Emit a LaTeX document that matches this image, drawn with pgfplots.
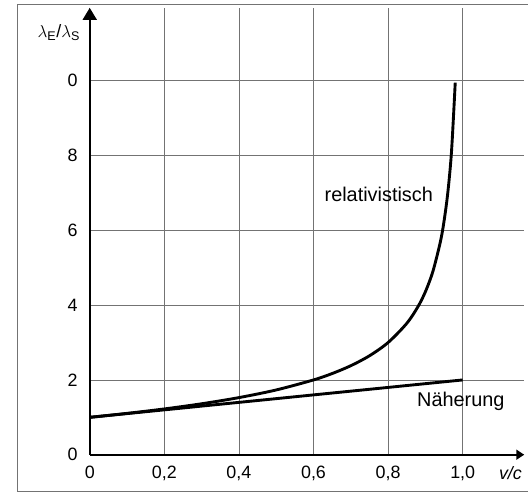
\documentclass[border=0pt]{standalone}
\usepackage{fontspec}
\setmainfont{Liberation Sans}
\usepackage{pgfplots}
\pgfplotsset{compat=1.18}
\usetikzlibrary{arrows.meta}
\definecolor{gridgray}{RGB}{115,115,115}
\begin{document}
\begin{tikzpicture}
\begin{axis}[
  x=374bp, y=37.5bp,
  xmin=0, xmax=1.165, ymin=0, ymax=11.95,
  axis lines=left,
  axis line style={line width=1.8pt, black},
  x axis line style={-{Triangle[width=10bp,length=8bp]}},
  y axis line style={-{Triangle[width=14bp,length=12bp]}},
  xtick={0,0.2,0.4,0.6,0.8,1.0},
  xticklabels={0,{0,2},{0,4},{0,6},{0,8},{1,0}},
  ytick={0,2,4,6,8,10},
  yticklabels={0,2,4,6,8,0},
  major tick length=0pt,
  grid=major,
  major grid style={gridgray, line width=0.8pt},
  /pgf/number format/assume math mode=true,
  ticklabel style={font=\fontsize{18}{20}\selectfont, inner sep=0pt},
  yticklabel style={anchor=east, xshift=-12bp},
  xticklabel style={anchor=north, yshift=-11bp},
  clip=false,
]
% invisible bounding rectangle matching the scan
\path (axis cs:-0.2406,-1.013) rectangle (axis cs:1.1738,12.16);
% scan frame
\draw[gridgray, line width=1pt] (axis cs:-0.195,-0.99) -- (axis cs:-0.195,12.03) -- (axis cs:1.1738,12.03);
\draw[gridgray, line width=1pt] (axis cs:-0.195,-0.99) -- (axis cs:1.1738,-0.99);
% relativistic curve
\addplot[black, line width=2.9pt, smooth] coordinates {
(0,1) (0.1,1.1055) (0.2,1.2247) (0.3,1.3628) (0.4,1.5275) (0.5,1.7321)
(0.6,2.0) (0.65,2.1712) (0.7,2.3805) (0.75,2.6458) (0.8,3.0) (0.85,3.5119)
(0.88,3.958) (0.9,4.3589) (0.92,4.899) (0.94,5.686) (0.95,6.245)
(0.96,7.0) (0.97,8.103) (0.98,9.95)
};
% approximation
\addplot[black, line width=2.9pt] coordinates {(0,1) (1.0,2.0)};
\node[font=\fontsize{20}{24}\selectfont] at (axis cs:0.775,6.96) {relativistisch};
\node[font=\fontsize{20}{24}\selectfont] at (axis cs:0.995,1.44) {Näherung};
\node[font=\fontsize{18}{22}\selectfont] at (axis cs:-0.083,11.28) {$\lambda$\textsubscript{E}/$\lambda$\textsubscript{S}};
\node[font=\fontsize{18}{22}\selectfont\itshape] at (axis cs:1.128,-0.5) {v/c};
\end{axis}
\end{tikzpicture}
\end{document}
